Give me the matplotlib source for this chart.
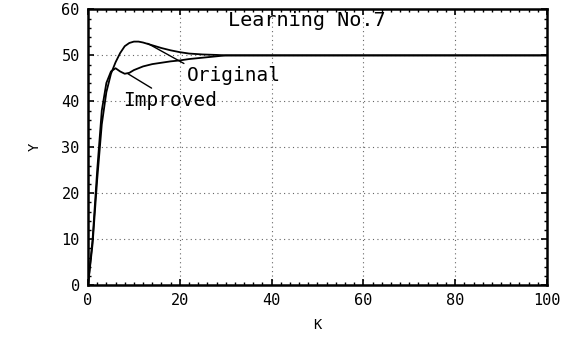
import matplotlib
matplotlib.use("Agg")
import matplotlib.pyplot as plt
from matplotlib.ticker import MultipleLocator

# response of the original controller
k_original = [0, 1, 2, 3, 4, 5, 6, 7, 8, 9, 10, 11, 12, 14, 16, 18, 20, 22, 25, 28, 30, 40, 60, 80, 100]
y_original = [0, 9, 23, 35, 42, 46, 48.5, 50.5, 52, 52.7, 53, 53, 52.8, 52.2, 51.6, 51.1,
              50.7, 50.4, 50.2, 50.1, 50, 50, 50, 50, 50]

# response after learning (improved)
k_improved = [0, 1, 2, 3, 4, 5, 6, 7, 8, 9, 10, 12, 14, 16, 18, 20, 22, 25, 28, 30, 40, 60, 80, 100]
y_improved = [0, 10, 25, 38, 44, 46.5, 47.2, 46.5, 46, 46.2, 46.8, 47.6, 48.1, 48.4, 48.7,
              48.9, 49.2, 49.5, 49.8, 50, 50, 50, 50, 50]

x_ticks = [0, 20, 40, 60, 80, 100]
y_ticks = [0, 10, 20, 30, 40, 50, 60]

FONT = "DejaVu Sans Mono"

fig = plt.figure(figsize=(5.73, 3.37), dpi=100)
ax = fig.add_axes([0.1536, 0.154, 0.801, 0.818])

ax.plot(k_original, y_original, color="black", lw=1.3)
ax.plot(k_improved, y_improved, color="black", lw=1.3)

ax.set_xlim(0, 100)
ax.set_ylim(0, 60)
ax.set_xticks(x_ticks)
ax.set_yticks(y_ticks)
ax.xaxis.set_minor_locator(MultipleLocator(2))
ax.yaxis.set_minor_locator(MultipleLocator(2))
ax.tick_params(which="both", direction="in", top=True, right=True, color="black")
ax.tick_params(which="major", length=4, width=1.2, labelsize=11, pad=6)
ax.tick_params(which="minor", length=2.5, width=1.0)
for lab in ax.get_xticklabels() + ax.get_yticklabels():
    lab.set_family(FONT)

for spine in ax.spines.values():
    spine.set_linewidth(1.8)

ax.grid(True, which="major", linestyle=(0, (1, 3)), color="#666666", lw=0.8)

ax.set_xlabel("K", family=FONT, fontsize=10, labelpad=7)
ax.set_ylabel("Y", family=FONT, fontsize=10, labelpad=14)

ax.text(30.4, 57.7, "Learning No.7", family=FONT, fontsize=14.5, va="center", ha="left")
ax.annotate("Original", xy=(13, 52.6), xytext=(21.5, 45.7), family=FONT, fontsize=14,
            va="center", ha="left",
            arrowprops=dict(arrowstyle="-", color="black", lw=1.0, shrinkA=0, shrinkB=0,
                            relpos=(0.03, 0.95)))
ax.annotate("Improved", xy=(8.7, 46), xytext=(7.6, 40.2), family=FONT, fontsize=14,
            va="center", ha="left",
            arrowprops=dict(arrowstyle="-", color="black", lw=1.0, shrinkA=0, shrinkB=0,
                            relpos=(0.42, 0.8)))

fig.savefig("out.png", dpi=100, facecolor="white")
